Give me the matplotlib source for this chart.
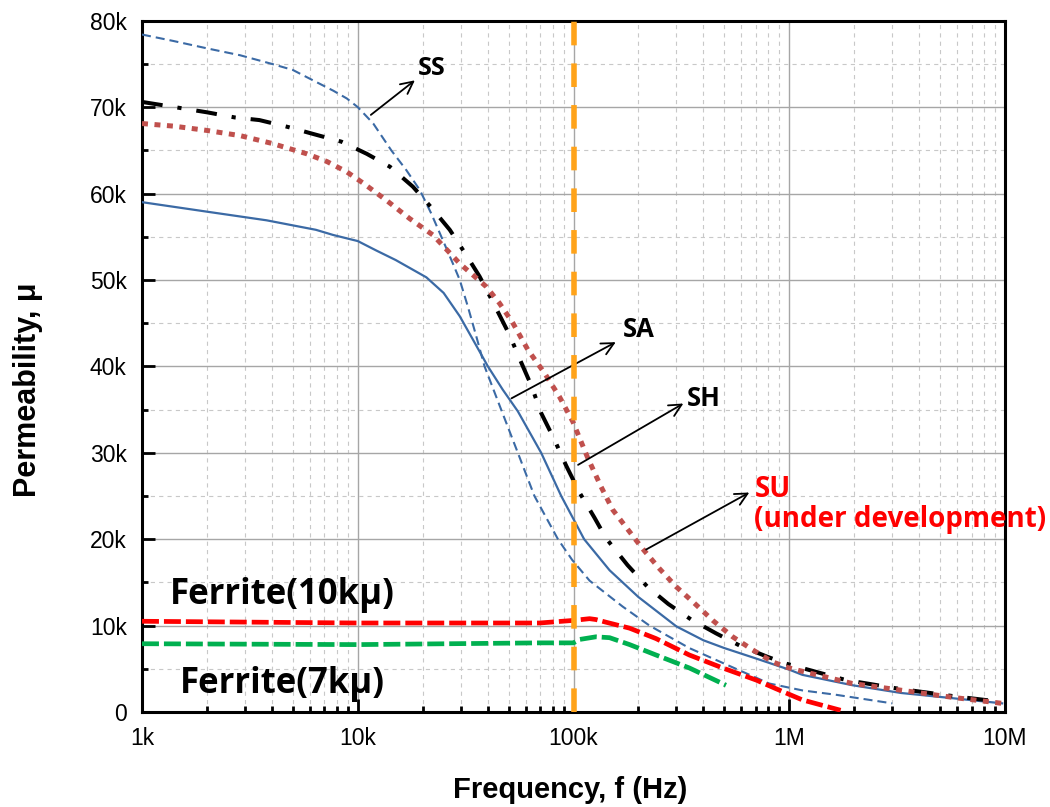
import matplotlib
matplotlib.use('Agg')
import matplotlib.pyplot as plt
from matplotlib import font_manager
from matplotlib.ticker import FixedLocator, LogLocator, MultipleLocator, NullFormatter

# values (frequency in Hz, permeability in thousands)
ss_f = [1e3, 1.4e3, 2e3, 2.85e3, 4e3, 5e3, 6.2e3, 7.7e3, 8.9e3, 10e3, 11.8e3, 14.3e3, 16.8e3, 19.4e3,
        21.9e3, 24.8e3, 27.6e3, 29.7e3, 32.4e3, 35.5e3, 38.7e3, 46.2e3, 55.2e3, 65.9e3, 84.7e3, 98.6e3,
        118.7e3, 169e3, 225e3, 344e3, 566e3, 807e3, 1.15e6, 1.64e6, 3.0e6]
ss_v = [78.4, 77.65, 76.8, 76.0, 75.0, 74.3, 73.1, 71.9, 71.0, 70.0, 68.1, 65.0, 62.7, 60.4,
        57.7, 54.6, 51.9, 50.0, 46.9, 43.4, 40.0, 35.0, 30.0, 25.0, 20.0, 17.6,
        15.2, 12.2, 10.0, 7.4, 5.0, 3.3, 2.5, 2.0, 1.0]

sa_f = [1e3, 2e3, 3.78e3, 6.4e3, 7.7e3, 10e3, 12.2e3, 15e3, 20.8e3, 25e3, 29.7e3, 34e3, 40.1e3, 47e3,
        55.2e3, 70.8e3, 87.7e3, 112e3, 147e3, 200e3, 300e3, 400e3, 500e3, 700e3, 1e6, 1.15e6, 1.96e6,
        3.3e6, 5.7e6, 9.7e6]
sa_v = [59.0, 57.9, 56.9, 55.8, 55.2, 54.5, 53.4, 52.3, 50.3, 48.5, 45.8, 43.2, 40.0, 37.3,
        34.8, 30.0, 25.0, 20.0, 16.4, 13.3, 9.9, 8.3, 7.4, 6.2, 4.9, 4.3, 3.1,
        2.2, 1.6, 1.0]

sh_f = [1e3, 1.5e3, 2e3, 2.7e3, 3.5e3, 4.75e3, 6.2e3, 8.4e3, 11e3, 14.1e3, 18e3, 21.9e3, 26.7e3,
        31.8e3, 36.7e3, 43e3, 50.6e3, 56.2e3, 63.7e3, 70.8e3, 81.6e3, 92.5e3, 106.6e3, 125e3, 141.6e3,
        178e3, 220e3, 275e3, 351e3, 458e3, 588e3, 790e3, 966e3, 1.83e6, 3.2e6, 5.9e6, 9.4e6]
sh_v = [70.6, 69.9, 69.4, 68.8, 68.5, 67.7, 66.9, 66.0, 64.6, 63.1, 60.8, 58.4, 55.8,
        52.9, 50.4, 47.1, 43.6, 40.9, 37.8, 34.6, 31.5, 28.5, 25.4, 22.5, 20.1,
        17.0, 14.5, 12.5, 10.7, 9.1, 7.7, 6.4, 5.6, 3.7, 2.7, 1.8, 1.2]

su_f = [1e3, 1.4e3, 2e3, 2.85e3, 4e3, 5.8e3, 7.2e3, 8.9e3, 10.6e3, 13.6e3, 17.4e3, 22.3e3, 29.7e3,
        39.5e3, 45.4e3, 52.4e3, 61.5e3, 73.5e3, 86e3, 99.3e3, 116e3, 134e3, 152e3, 209e3, 250e3,
        299e3, 363e3, 442e3, 547e3, 676e3, 837e3, 966e3, 1.07e6, 1.96e6, 5.7e6, 9.7e6]
su_v = [68.1, 67.8, 67.3, 66.7, 65.8, 64.6, 63.7, 62.5, 61.2, 59.2, 57.1, 55.2, 51.9,
        49.2, 47.3, 45.0, 41.9, 39.2, 36.5, 33.6, 29.5, 26.1, 23.4, 18.9, 16.6,
        14.5, 12.6, 10.6, 8.7, 7.2, 5.8, 5.2, 4.9, 3.3, 1.7, 1.0]

fe10_f = [1e3, 10e3, 69.7e3, 100e3, 118.7e3, 127e3, 141e3, 182e3, 241e3, 344e3, 491e3, 702e3,
          867e3, 1.15e6, 1.73e6]
fe10_v = [10.5, 10.3, 10.3, 10.6, 10.8, 10.7, 10.4, 9.7, 8.5, 6.6, 5.1, 3.7, 2.7, 1.4, 0.2]

fe7_f = [1e3, 10e3, 69.7e3, 100e3, 107e3, 127e3, 147e3, 182e3, 241e3, 344e3, 509e3]
fe7_v = [7.9, 7.8, 8.0, 8.0, 8.4, 8.7, 8.6, 7.8, 6.6, 5.1, 3.1]

x_ticks = [1e3, 1e4, 1e5, 1e6, 1e7]
x_labels = ['1k', '10k', '100k', '1M', '10M']
y_ticks = [0, 10, 20, 30, 40, 50, 60, 70, 80]
y_labels = ['0', '10k', '20k', '30k', '40k', '50k', '60k', '70k', '80k']


def bold_family(names):
    # first family that really has a bold face installed
    for name in names:
        for f in font_manager.fontManager.ttflist:
            w = f.weight
            if isinstance(w, str):
                w = font_manager.weight_dict.get(w, 400)
            if f.name == name and w >= 600:
                return name
    return 'DejaVu Sans'


plt.rcParams['lines.scale_dashes'] = False
plt.rcParams['font.family'] = ['Liberation Sans', 'DejaVu Sans']
note_font = [bold_family(['Open Sans', 'Noto Sans', 'Roboto', 'Lato']), 'DejaVu Sans']

fig = plt.figure(figsize=(10.5, 8.07), dpi=100)
ax = fig.add_axes([142 / 1050, 95 / 807, 863 / 1050, 691.3 / 807])

blue = '#3b6aa5'
ax.plot(ss_f, ss_v, color=blue, lw=1.5, ls=(0, (6.5, 3.6)), dash_capstyle='butt', zorder=3)
ax.plot(sa_f, sa_v, color=blue, lw=1.6, zorder=3)
ax.plot(sh_f, sh_v, color='black', lw=2.9, ls=(0, (15, 10.8, 3, 10.8)), dash_capstyle='butt', zorder=3)
ax.plot(su_f, su_v, color='#c0504d', lw=3.6, ls=(0, (4.3, 4.7)), dash_capstyle='butt', zorder=3)
ax.plot(fe10_f, fe10_v, color='#ff0000', lw=3.4, ls=(0, (12.2, 3.6)), dash_capstyle='butt', zorder=3)
ax.plot(fe7_f, fe7_v, color='#00b050', lw=3.4, ls=(0, (12.2, 3.6)), dash_capstyle='butt', zorder=3)
ax.axvline(1e5, color='#ffa31a', lw=4, ls=(0, (17, 13)), zorder=4)

ax.set_xscale('log')
ax.set_xlim(1e3, 1e7)
ax.set_ylim(0, 80)
ax.xaxis.set_major_locator(FixedLocator(x_ticks))
ax.set_xticklabels(x_labels)
ax.xaxis.set_minor_locator(LogLocator(base=10, subs=range(2, 10)))
ax.xaxis.set_minor_formatter(NullFormatter())
ax.yaxis.set_major_locator(FixedLocator(y_ticks))
ax.set_yticklabels(y_labels)
ax.yaxis.set_minor_locator(MultipleLocator(5))

ax.set_axisbelow(True)
ax.grid(which='major', color='#a6a6a6', lw=1.0)
ax.grid(which='minor', color='#c8c8c8', lw=0.8, ls=(0, (3, 3)))
ax.tick_params(which='major', direction='in', length=9.5, width=2, labelsize=16.5, pad=11)
ax.tick_params(which='minor', direction='in', length=4.5, width=2)
for s in ax.spines.values():
    s.set_linewidth(2.2)

arrow = dict(arrowstyle='->', color='black', lw=1.3, mutation_scale=22, shrinkA=0, shrinkB=0)
ax.annotate('', xy=(18.4e3, 73.1), xytext=(11.5e3, 69.1), arrowprops=arrow)
ax.annotate('', xy=(157e3, 42.8), xytext=(51.6e3, 36.3), arrowprops=arrow)
ax.annotate('', xy=(323e3, 35.7), xytext=(105e3, 28.6), arrowprops=arrow, zorder=5)
ax.annotate('', xy=(653e3, 25.4), xytext=(217e3, 18.8), arrowprops=arrow)

ax.text(19e3, 73.7, 'SS', fontsize=18, fontweight='bold', family=note_font)
ax.text(170e3, 43.4, 'SA', fontsize=18.5, fontweight='bold', family=note_font)
ax.text(335e3, 35.4, 'SH', fontsize=18.5, fontweight='bold', family=note_font)
ax.text(689e3, 24.9, 'SU', fontsize=20, fontweight='bold', family=note_font, color='#ff0000')
ax.text(689e3, 21.4, '(under development)', fontsize=20, fontweight='bold', family=note_font,
        color='#ff0000', clip_on=False)
ax.text(1348, 12.5, 'Ferrite(10kμ)', fontsize=25, fontweight='bold', family=note_font)
ax.text(1500, 2.15, 'Ferrite(7kμ)', fontsize=25, fontweight='bold', family=note_font)

fig.text(570 / 1050, 1 - 790 / 807, 'Frequency, f (Hz)', ha='center', va='center',
         fontsize=21, fontweight='bold')
fig.text(28 / 1050, 1 - 390 / 807, 'Permeability, μ', ha='center', va='center',
         rotation=90, fontsize=22, fontweight='bold')

fig.savefig('out.png', dpi=100)
